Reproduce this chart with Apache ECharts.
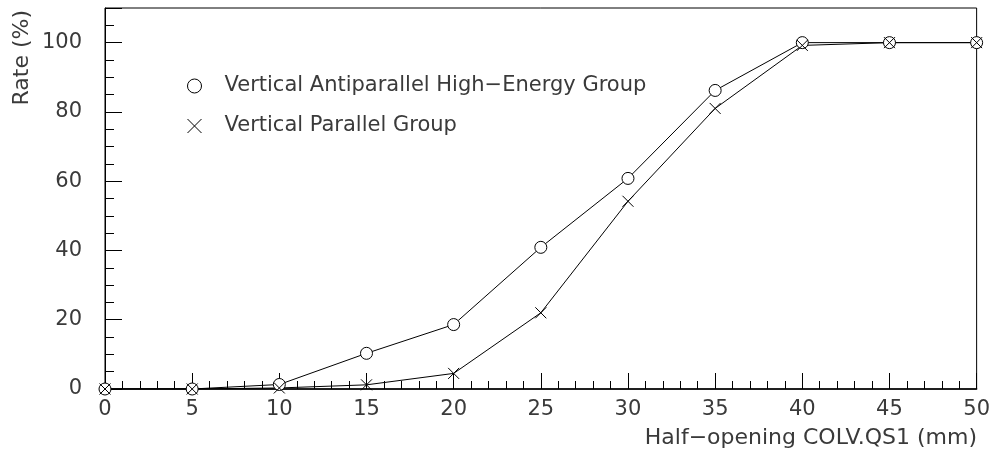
<!DOCTYPE html>
<html>
<head>
<meta charset="utf-8">
<script src="https://cdn.jsdelivr.net/npm/echarts@6/dist/echarts.min.js"></script>
<style>html,body{margin:0;padding:0;background:#fff}#c{width:993px;height:457px}</style>
</head>
<body>
<div id="c"></div>
<script>
var xValues = [0, 5, 10, 15, 20, 25, 30, 35, 40, 45, 50];
var antiparallelHigh = [0, 0, 1.3, 10.3, 18.6, 40.9, 60.8, 86.2, 100, 100, 100];
var parallelGroup = [0, 0, 0.3, 1.2, 4.5, 22, 54.2, 81, 99.2, 100, 100];
var seriesNames = ['Vertical Antiparallel High\u2212Energy Group', 'Vertical Parallel Group'];
var xTitle = 'Half\u2212opening COLV.QS1 (mm)';
var yTitle = 'Rate (%)';

function pairs(ys) { return xValues.map(function (x, i) { return [x, ys[i]]; }); }

var crossPath = 'path://M0,0L10,10M10,0L0,10';
var textFont = "'DejaVu Sans', sans-serif";

var chart = echarts.init(document.getElementById('c'));
chart.setOption({
  animation: false,
  backgroundColor: '#fff',
  grid: { left: 105, right: 16, top: 8, bottom: 68, show: true, borderColor: '#000', borderWidth: 1, backgroundColor: 'transparent' },
  xAxis: {
    type: 'value', min: 0, max: 50, interval: 5,
    axisLine: { lineStyle: { color: '#000', width: 1.5 } },
    axisTick: { inside: true, length: 16, lineStyle: { color: '#000' } },
    minorTick: { show: true, splitNumber: 5, length: 8, lineStyle: { color: '#000' } },
    splitLine: { show: false },
    axisLabel: { color: '#3a3a3a', fontFamily: textFont, fontSize: 21, margin: 10 }
  },
  yAxis: {
    type: 'value', min: 0, max: 110, interval: 20,
    axisLine: { lineStyle: { color: '#000', width: 1 } },
    axisTick: { inside: true, length: 17, lineStyle: { color: '#000' } },
    minorTick: { show: true, splitNumber: 4, length: 9, lineStyle: { color: '#000' } },
    splitLine: { show: false },
    axisLabel: { color: '#3a3a3a', fontFamily: textFont, fontSize: 21, margin: 23, showMaxLabel: false }
  },
  legend: {
    orient: 'vertical', left: 182, top: 69, itemWidth: 14, itemHeight: 14, itemGap: 16,
    textStyle: { color: '#3a3a3a', fontFamily: textFont, fontSize: 21, lineHeight: 24, padding: [0, 0, 0, 18] },
    data: [
      { name: seriesNames[0], icon: 'circle', itemStyle: { color: '#fff', borderColor: '#000', borderWidth: 1 } },
      { name: seriesNames[1], icon: crossPath, itemStyle: { color: '#000', borderColor: '#000', borderWidth: 1 } }
    ]
  },
  graphic: [
    { type: 'text', x: 977, y: 438, style: { text: xTitle, fill: '#3a3a3a', font: "22px 'DejaVu Sans', sans-serif", align: 'right', verticalAlign: 'middle' } },
    { type: 'text', x: 22, y: 10, rotation: Math.PI / 2, style: { text: yTitle, fill: '#3a3a3a', font: "22px 'DejaVu Sans', sans-serif", align: 'right', verticalAlign: 'middle' } }
  ],
  series: [
    {
      name: seriesNames[0], type: 'line', data: pairs(antiparallelHigh),
      symbol: 'circle', symbolSize: 12, showAllSymbol: true,
      lineStyle: { color: '#000', width: 1 },
      itemStyle: { color: '#fff', borderColor: '#000', borderWidth: 1 }
    },
    {
      name: seriesNames[1], type: 'line', data: pairs(parallelGroup),
      symbol: crossPath, symbolSize: 11, showAllSymbol: true,
      lineStyle: { color: '#000', width: 1 },
      itemStyle: { color: '#000', borderColor: '#000', borderWidth: 1 }
    }
  ]
});
</script>
</body>
</html>
